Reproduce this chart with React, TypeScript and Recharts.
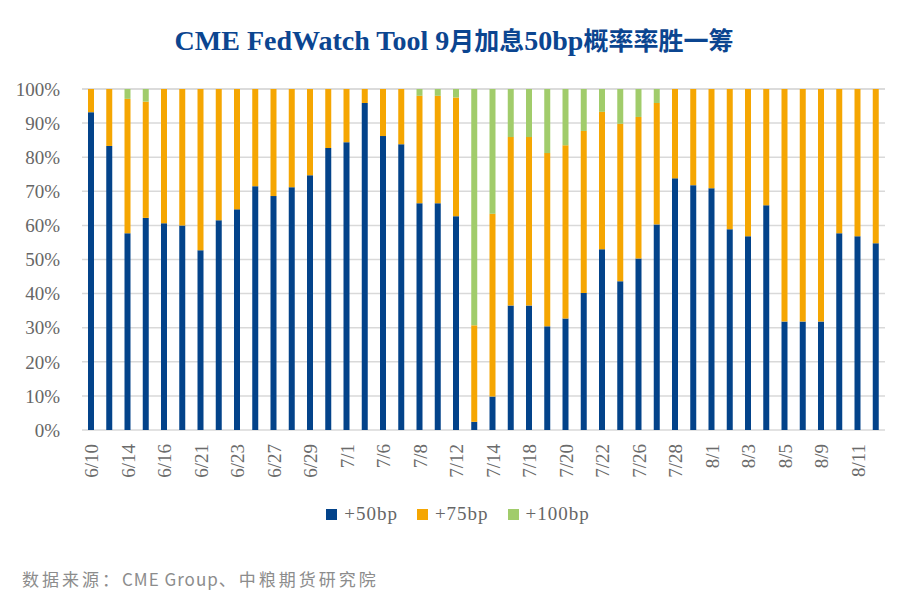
import { BarChart, Bar, XAxis, YAxis, CartesianGrid, Legend } from 'recharts';

// trading days (ticks shown on every other day)
const dates = [
    '6/10', '6/13', '6/14', '6/15', '6/16', '6/17', '6/21', '6/22', '6/23', '6/24',
    '6/27', '6/28', '6/29', '6/30', '7/1', '7/5', '7/6', '7/7', '7/8', '7/11',
    '7/12', '7/13', '7/14', '7/15', '7/18', '7/19', '7/20', '7/21', '7/22', '7/25',
    '7/26', '7/27', '7/28', '7/29', '8/1', '8/2', '8/3', '8/4', '8/5', '8/8',
    '8/9', '8/10', '8/11', '8/12'
];

const bp50 = [
    93.2, 83.3, 57.7, 62.2, 60.6, 60.0, 52.7, 61.5, 64.7, 71.5,
    68.6, 71.2, 74.7, 82.7, 84.4, 95.9, 86.2, 83.8, 66.5, 66.5,
    62.7, 2.4, 9.8, 36.5, 36.5, 30.4, 32.7, 40.2, 53.0, 43.6,
    50.3, 60.3, 73.8, 71.8, 70.9, 58.9, 56.8, 65.9, 31.8, 31.8,
    31.8, 57.7, 56.8, 54.8
];

const bp75 = [
    6.8, 16.7, 39.4, 34.1, 39.4, 40.0, 47.3, 38.5, 35.3, 28.5,
    31.4, 28.8, 25.3, 17.3, 15.6, 4.1, 13.8, 16.2, 31.5, 31.5,
    34.8, 28.3, 53.6, 49.4, 49.4, 50.8, 50.8, 47.5, 40.3, 46.2,
    41.5, 35.6, 26.2, 28.2, 29.1, 41.1, 43.2, 34.1, 68.2, 68.2,
    68.2, 42.3, 43.2, 45.2
];

const bp100 = [
    0, 0, 2.9, 3.7, 0, 0, 0, 0, 0, 0,
    0, 0, 0, 0, 0, 0, 0, 0, 2.0, 2.0,
    2.5, 69.3, 36.6, 14.1, 14.1, 18.8, 16.5, 12.3, 6.7, 10.2,
    8.2, 4.1, 0, 0, 0, 0, 0, 0, 0, 0,
    0, 0, 0, 0
];

const yTicks = [0, 10, 20, 30, 40, 50, 60, 70, 80, 90, 100];

const SERIES = [
    { key: 'bp50', name: '+50bp', color: '#03438a' },
    { key: 'bp75', name: '+75bp', color: '#f5a602' },
    { key: 'bp100', name: '+100bp', color: '#a1cc6b' },
];

const SERIF = '"Liberation Serif", "Times New Roman", serif';

const data = dates.map((d, i) => ({ date: d, bp50: bp50[i], bp75: bp75[i], bp100: bp100[i] }));

const DateTick = (props: any) => {
    const { x, y, payload } = props;
    return (
        <text
            x={x}
            y={y}
            transform={`rotate(-90, ${x}, ${y})`}
            textAnchor="end"
            dy="0.38em"
            fontFamily={SERIF}
            fontSize={19}
            fill="#6b6b6b"
        >
            {payload.value}
        </text>
    );
};

const renderLegend = () => (
    <div style={{ display: 'flex', justifyContent: 'center', gap: 19, fontFamily: SERIF, fontSize: 19, color: '#666', letterSpacing: 1, paddingLeft: 8 }}>
        {SERIES.map(s => (
            <div key={s.key} style={{ display: 'flex', alignItems: 'center' }}>
                <span style={{ display: 'inline-block', width: 11, height: 11, background: s.color, marginRight: 7 }} />
                <span>{s.name}</span>
            </div>
        ))}
    </div>
);

export default function App() {
    return (
        <div style={{ position: 'absolute', left: 0, top: 0, width: 908, height: 603, background: '#fff' }}>
            <BarChart
                width={908}
                height={603}
                data={data}
                margin={{ top: 89, right: 23, left: 0, bottom: 123 }}
            >
                <CartesianGrid vertical={false} stroke="#d9d9d9" strokeWidth={1.5} />
                <XAxis
                    dataKey="date"
                    interval={1}
                    height={50}
                    axisLine={false}
                    tickLine={false}
                    tickMargin={8}
                    tick={<DateTick />}
                />
                <YAxis
                    width={82}
                    domain={[0, 100]}
                    ticks={yTicks}
                    axisLine={false}
                    tickLine={false}
                    tickMargin={16}
                    tickFormatter={(v: number) => `${v}%`}
                    tick={{ fontFamily: SERIF, fontSize: 19, fill: '#666' }}
                />
                <Legend
                    layout="horizontal"
                    verticalAlign="middle"
                    align="center"
                    content={renderLegend}
                    wrapperStyle={{ top: 503, left: 0, width: 908 }}
                />
                {SERIES.map(s => (
                    <Bar
                        key={s.key}
                        dataKey={s.key}
                        name={s.name}
                        stackId="a"
                        fill={s.color}
                        barSize={6}
                        isAnimationActive={false}
                    />
                ))}
            </BarChart>
            <div style={{
                position: 'absolute', top: 23, left: 0, width: 908, textAlign: 'center',
                fontFamily: '"Liberation Serif", "Noto Sans CJK SC", serif', fontWeight: 'bold',
                fontSize: 28, color: '#0b4590', lineHeight: '36px'
            }}>
                CME FedWatch Tool 9<span style={{ fontSize: 25 }}>月加息</span>50bp<span style={{ fontSize: 25 }}>概率率胜一筹</span>
            </div>
            <div style={{
                position: 'absolute', top: 566, left: 22,
                fontFamily: '"Noto Sans CJK SC", "Noto Sans", sans-serif',
                fontSize: 17, letterSpacing: 3, color: '#8c8c8c', lineHeight: '26px'
            }}>
                数据来源：<span style={{ letterSpacing: 1 }}>CME Group</span>、中粮期货研究院
            </div>
        </div>
    );
}
